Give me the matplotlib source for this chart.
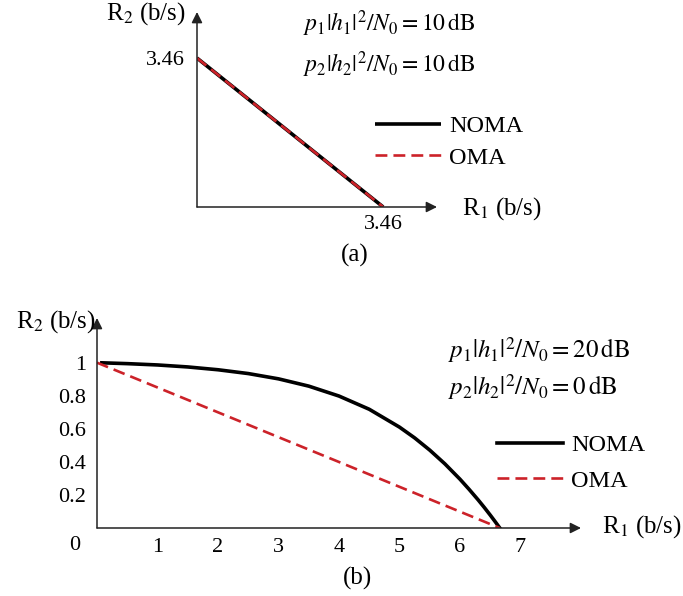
import numpy as np
import matplotlib
matplotlib.use('Agg')
import matplotlib.pyplot as plt

# ── Dane ─────────────────────────────────────────────
# (a) symetryczne kanały, 10 dB / 10 dB
a_noma_r1 = [0.0, 3.46]
a_noma_r2 = [3.46, 0.0]
a_oma_r1 = [0.0, 3.46]
a_oma_r2 = [3.46, 0.0]
a_ticks = [3.46]

b_noma_r1 = [0.08, 0.5, 1.0, 1.5, 2.0, 2.5, 3.0, 3.5, 4.0, 4.5, 5.0,
             5.25, 5.5, 5.75, 6.0, 6.15, 6.3, 6.4, 6.5, 6.58, 6.658]
b_noma_r2 = [0.999, 0.994, 0.986, 0.974, 0.957, 0.934, 0.902, 0.858, 0.798,
             0.718, 0.610, 0.545, 0.471, 0.388, 0.295, 0.234, 0.170, 0.125,
             0.078, 0.039, 0.0]
b_oma_r1 = [0.0, 6.658]
b_oma_r2 = [1.0, 0.0]

b_xticks = [1, 2, 3, 4, 5, 6, 7]
b_yticks = [0.2, 0.4, 0.6, 0.8, 1.0]
b_yticklabels = ['0.2', '0.4', '0.6', '0.8', '1']

W, H = 683, 596
RED = '#cc2229'
DASH = (0, (4.5, 2.3))
FS_TICK = 16
FS_LAB = 18
FS_LEG = 17.5

plt.rcParams['font.family'] = ['Liberation Serif', 'DejaVu Serif']
plt.rcParams['mathtext.fontset'] = 'stix'

fig = plt.figure(figsize=(W / 100, H / 100), dpi=100)


def px_axes(x0, y0, x1, y1):
    # piksele (lewy-górny róg obrazu) -> współrzędne figury
    return fig.add_axes([x0 / W, 1 - y1 / H, (x1 - x0) / W, (y1 - y0) / H])


def px_text(x, y, s, **kw):
    return fig.text(x / W, 1 - y / H, s, **kw)


def arrow_axes(ax, xmax, ymax):
    for s in ax.spines.values():
        s.set_visible(False)
    kw = dict(arrowstyle='-|>', lw=1.1, color='#222222', mutation_scale=16,
              shrinkA=0, shrinkB=0)
    ax.annotate('', xy=(xmax, 0), xytext=(0, 0), arrowprops=kw,
                annotation_clip=False)
    ax.annotate('', xy=(0, ymax), xytext=(0, 0), arrowprops=kw,
                annotation_clip=False)
    ax.set_xlim(0, xmax)
    ax.set_ylim(0, ymax)
    ax.set_facecolor('none')


def legend_at(ax, x, y, spacing):
    return ax.legend(loc='center left', bbox_to_anchor=(x / W, 1 - y / H),
                     bbox_transform=fig.transFigure, frameon=False,
                     fontsize=FS_LEG, handlelength=2.7, handletextpad=0.35,
                     labelspacing=spacing, borderpad=0, borderaxespad=0)


# ── (a) ───────────────────────────────────────────────
ax_a = px_axes(197, 12, 437, 207)
arrow_axes(ax_a, 4.46, 4.53)
ax_a.plot(a_noma_r1, a_noma_r2, color='black', lw=2.6, label='NOMA',
          solid_capstyle='butt')
ax_a.plot(a_oma_r1, a_oma_r2, color=RED, lw=1.9, ls=DASH, label='OMA')
ax_a.set_xticks(a_ticks, ['3.46'])
ax_a.set_yticks(a_ticks, ['3.46'])
ax_a.tick_params(length=0, labelsize=FS_TICK)
ax_a.tick_params(axis='x', pad=6)
ax_a.tick_params(axis='y', pad=8.5)
px_text(186, 14, 'R$_2$ (b/s)', ha='right', va='center', fontsize=FS_LAB)
px_text(462, 209, 'R$_1$ (b/s)', ha='left', va='center', fontsize=FS_LAB)
legend_at(ax_a, 375, 142, 0.38)
px_text(303, 24, r'$p_1|h_1|^2/N_0 = 10\,\mathrm{dB}$',
        ha='left', va='center', fontsize=17)
px_text(303, 65, r'$p_2|h_2|^2/N_0 = 10\,\mathrm{dB}$',
        ha='left', va='center', fontsize=17)
px_text(355, 255, '(a)', ha='center', va='center', fontsize=FS_LAB)

# ── (b) ───────────────────────────────────────────────
ax_b = px_axes(97, 318, 581, 528)
arrow_axes(ax_b, 8.0, 1.27)
ax_b.plot(b_noma_r1, b_noma_r2, color='black', lw=2.6, label='NOMA')
ax_b.plot(b_oma_r1, b_oma_r2, color=RED, lw=1.9, ls=DASH, label='OMA')
ax_b.set_xticks(b_xticks, [str(v) for v in b_xticks])
ax_b.set_yticks(b_yticks, b_yticklabels)
ax_b.tick_params(length=0, labelsize=FS_TICK)
ax_b.tick_params(axis='x', pad=7)
ax_b.tick_params(axis='y', pad=8)
px_text(75, 545, '0', ha='center', va='center', fontsize=FS_TICK)
px_text(96, 322, 'R$_2$ (b/s)', ha='right', va='center', fontsize=FS_LAB)
px_text(602, 527, 'R$_1$ (b/s)', ha='left', va='center', fontsize=FS_LAB)
legend_at(ax_b, 497, 463, 0.55)
px_text(448, 350, r'$p_1|h_1|^2/N_0 = 20\,\mathrm{dB}$',
        ha='left', va='center', fontsize=18)
px_text(448, 387, r'$p_2|h_2|^2/N_0 = 0\,\mathrm{dB}$',
        ha='left', va='center', fontsize=18)
px_text(358, 578, '(b)', ha='center', va='center', fontsize=FS_LAB)

fig.savefig('out.png', dpi=100)
